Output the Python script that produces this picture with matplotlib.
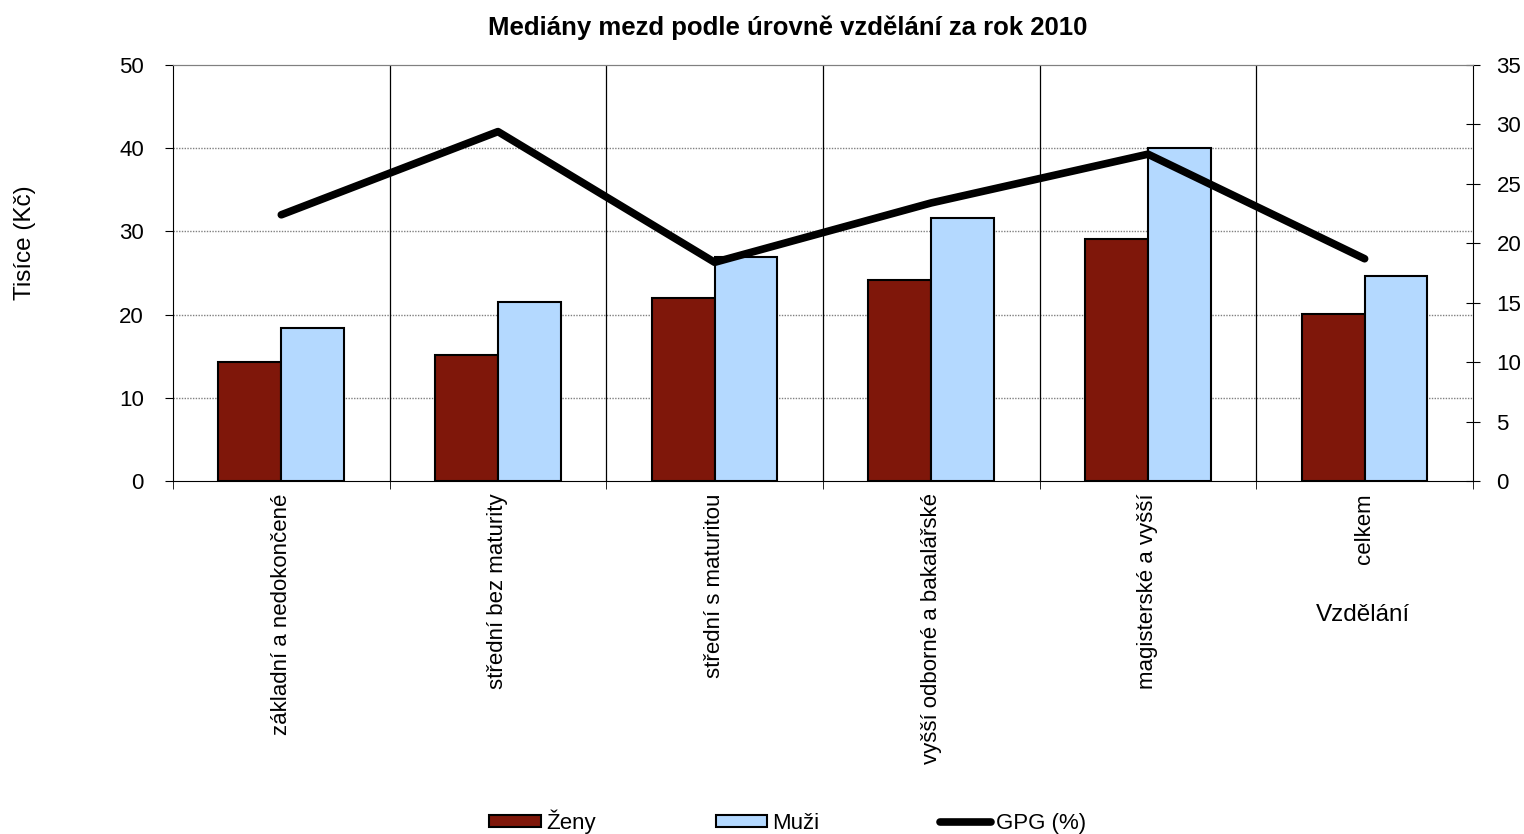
import numpy as np
import matplotlib.pyplot as plt

# data
kategorie = ['základní a nedokončené', 'střední bez maturity', 'střední s maturitou',
             'vyšší odborné a bakalářské', 'magisterské a vyšší', 'celkem']
zeny = [14.3, 15.2, 22.0, 24.2, 29.1, 20.1]
muzi = [18.4, 21.5, 26.9, 31.6, 40.0, 24.7]
gpg = [22.4, 29.4, 18.4, 23.4, 27.5, 18.7]

plt.rcParams['font.family'] = ['Liberation Sans', 'DejaVu Sans']
fs = 16

fig = plt.figure(figsize=(15.24, 8.34), dpi=100)
ax = fig.add_axes([0.1135, 0.4233, 0.853, 0.4987])
ax2 = ax.twinx()

x = np.arange(len(kategorie))
w = 0.29
ax.bar(x - w / 2, zeny, w, color='#7f170a', edgecolor='black', linewidth=1.5, label='Ženy', zorder=3)
ax.bar(x + w / 2, muzi, w, color='#b4d9ff', edgecolor='black', linewidth=1.5, label='Muži', zorder=3)
ax2.plot(x, gpg, color='black', linewidth=5.5, label='GPG (%)', solid_capstyle='round')

ax.set_xlim(-0.5, len(kategorie) - 0.5)
ax.set_ylim(0, 50)
ax2.set_ylim(0, 35)
ax.set_yticks(np.arange(0, 51, 10))
ax2.set_yticks(np.arange(0, 36, 5))

# dotted horizontal grid, solid vertical separators
for v in range(10, 50, 10):
    ax.axhline(v, color='#808080', linestyle=(0, (1, 1)), linewidth=1, zorder=1)
for b in np.arange(0.5, len(kategorie) - 1, 1):
    ax.axvline(b, color='black', linewidth=0.9, zorder=1)

ax.set_xticks(x)
ax.set_xticklabels(kategorie, rotation=90, fontsize=fs, va='top', ha='center')
ax.set_xticks(np.arange(-0.5, len(kategorie), 1), minor=True)
ax.tick_params(axis='x', which='major', length=0, pad=9)
ax.tick_params(axis='x', which='minor', length=6, direction='out')
ax.tick_params(axis='y', labelsize=fs, length=6, direction='out', pad=15)
ax2.tick_params(axis='y', labelsize=fs, length=10, direction='inout', pad=12)

ax.spines['top'].set_color('#808080')
ax2.spines['top'].set_color('#808080')
ax.spines['right'].set_visible(False)
ax2.spines['left'].set_visible(False)
ax2.spines['bottom'].set_visible(False)

fig.text(0.517, 0.967, 'Mediány mezd podle úrovně vzdělání za rok 2010',
         ha='center', va='center', fontsize=18.5, fontweight='bold')
fig.text(0.0165, 0.709, 'Tisíce (Kč)', rotation=90, ha='center', va='center', fontsize=17.5)
fig.text(0.894, 0.263, 'Vzdělání', ha='center', va='center', fontsize=17.5)

h1, l1 = ax.get_legend_handles_labels()
h2, l2 = ax2.get_legend_handles_labels()
fig.legend(h1 + h2, l1 + l2, loc='center', bbox_to_anchor=(0.517, 0.015), ncol=3,
           frameon=False, fontsize=fs, handlelength=2.3, handletextpad=0.25,
           columnspacing=5.4, handleheight=0.5, borderpad=0)

fig.savefig('out.png', dpi=100)
